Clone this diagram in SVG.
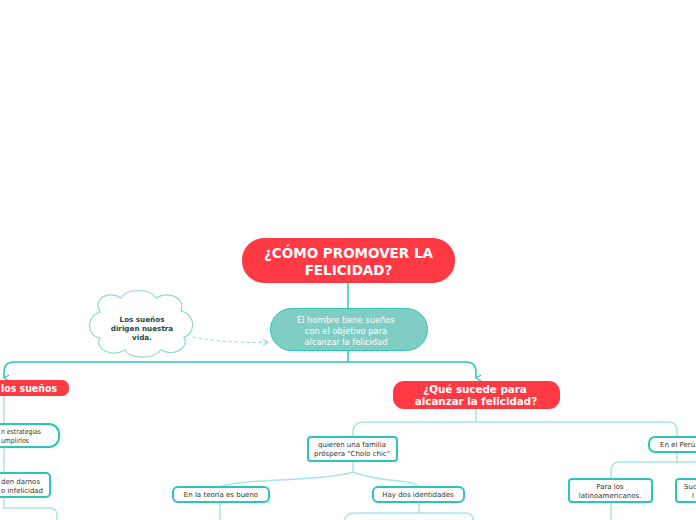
<svg xmlns="http://www.w3.org/2000/svg" width="696" height="520" viewBox="0 0 696 520">
<style>
text{font-family:"DejaVu Sans","Verdana",sans-serif}
.red{fill:#ff3a44}
.rt{fill:#fff;font-weight:bold;text-anchor:middle}
.wn{fill:#fff;stroke:#2ec4b9;stroke-width:2}
.wt{fill:#333;font-size:7px;text-anchor:middle}
.c1{fill:none;stroke:#2ec4b9;stroke-width:1.5}
.c2{fill:none;stroke:#a9e6e1;stroke-width:1.5}
</style>
<defs>
<marker id="ah" markerWidth="8" markerHeight="8" refX="4" refY="6" orient="auto" markerUnits="userSpaceOnUse" viewBox="0 0 8 8">
<path d="M1,1 L4,6 L7,1" fill="none" stroke="#2ec4b9" stroke-width="1.2"/>
</marker>
<marker id="ah2" markerWidth="8" markerHeight="8" refX="6" refY="4" orient="auto" markerUnits="userSpaceOnUse" viewBox="0 0 8 8">
<path d="M1,1 L6,4 L1,7" fill="none" stroke="#8fd9d2" stroke-width="1"/>
</marker>
</defs>
<rect width="696" height="520" fill="#fff"/>
<g id="connectors">
<path class="c1" d="M348,283 V308"/>
<path class="c1" d="M348,351 V362"/>
<path class="c1" d="M348,362 H14 Q4,362 4,372 V378" marker-end="url(#ah)"/>
<path class="c1" d="M348,362 H466 Q476,362 476,372 V378" marker-end="url(#ah)"/>
<path d="M193,337 Q230,344 268,342" fill="none" stroke="#8fd9d2" stroke-width="1" stroke-dasharray="3,3" marker-end="url(#ah2)"/>
<path class="c2" d="M4,396 V424 M4,447 V473 M4,497 V508 H49 Q57,508 57,516 V520"/>
<path class="c2" d="M476,409 V422 M365,422 H668 Q677,422 677,431 V437 M365,422 Q353,422 353,432 V436"/>
<path class="c2" d="M353,461 V472 M353,472 Q340,477 280,480 Q230,482 220,487 M353,472 Q366,477 389,480 Q415,482 419,487"/>
<path class="c2" d="M220,502 V520"/>
<path class="c2" d="M419,502 V513 M419,513 H355 Q345,513 345,520 M419,513 H465 Q473,513 473,520"/>
<path class="c2" d="M677,452 V462 H620 Q611,462 611,471 V478 M677,462 H696"/>
<path class="c2" d="M611,502 V520"/>
</g>
<g id="root">
<rect class="red" x="242" y="238" width="213" height="45" rx="22"/>
<text class="rt" x="348.5" y="258" font-size="13.5">¿CÓMO PROMOVER LA</text>
<text class="rt" x="348.5" y="275" font-size="13.5">FELICIDAD?</text>
</g>
<g id="hombre">
<rect x="270.5" y="308.5" width="157" height="42" rx="21" fill="#7fcdc3" stroke="#2ec4b9" stroke-width="1"/>
<text x="346" y="323" font-size="8.3" fill="#fff" text-anchor="middle">El hombre tiene sueños</text>
<text x="346" y="334" font-size="8.3" fill="#fff" text-anchor="middle">con el objetivo para</text>
<text x="346" y="345" font-size="8.3" fill="#fff" text-anchor="middle">alcanzar la felicidad</text>
</g>
<g id="nube">
<path d="M100,312 C92,298 110,290 121,298 C127,288 150,288 156,298 C168,290 186,298 181,311 C196,314 196,334 184,337 C190,349 172,357 161,350 C153,360 130,359 125,350 C110,358 94,348 100,338 C86,336 86,316 100,312 Z" fill="#fff" stroke="#8fd9d2" stroke-width="1.2"/>
<text x="142" y="322" font-size="7.2" font-weight="bold" fill="#1e4d3c" text-anchor="middle">Los sueños</text>
<text x="142" y="331" font-size="7.2" font-weight="bold" fill="#1e4d3c" text-anchor="middle">dirigen nuestra</text>
<text x="142" y="340" font-size="7.2" font-weight="bold" fill="#1e4d3c" text-anchor="middle">vida.</text>
</g>
<g id="suenos">
<rect class="red" x="-40" y="380" width="109" height="16" rx="7"/>
<text x="1" y="392" font-size="10" font-weight="bold" fill="#fff" textLength="56" lengthAdjust="spacingAndGlyphs">los sueños</text>
</g>
<g id="estrategias">
<rect class="wn" x="-40" y="424" width="99" height="23" rx="10"/>
<text x="1" y="434" font-size="7" fill="#333" textLength="40" lengthAdjust="spacingAndGlyphs">n estrategias</text>
<text x="1" y="443" font-size="7" fill="#333" textLength="28" lengthAdjust="spacingAndGlyphs">umplirlos</text>
</g>
<g id="darnos">
<rect class="wn" x="-40" y="473" width="90" height="24" rx="4"/>
<text x="1" y="484" font-size="7" fill="#333" textLength="39" lengthAdjust="spacingAndGlyphs">den darnos</text>
<text x="1" y="493" font-size="7" fill="#333" textLength="42" lengthAdjust="spacingAndGlyphs">o infelicidad</text>
</g>
<g id="sucede">
<rect class="red" x="393" y="381" width="167" height="28" rx="11"/>
<text class="rt" x="475" y="393" font-size="10.3">¿Qué sucede para</text>
<text class="rt" x="476" y="405" font-size="10.3">alcanzar la felicidad?</text>
</g>
<g id="familia">
<rect class="wn" x="308" y="437" width="89" height="24" rx="3"/>
<text class="wt" x="352" y="447">quieren una familia</text>
<text class="wt" x="352" y="456">próspera "Cholo chic"</text>
</g>
<g id="teoria">
<rect class="wn" x="173" y="487" width="96" height="15" rx="5"/>
<text class="wt" x="221" y="497">En la teoría es bueno</text>
</g>
<g id="identidades">
<rect class="wn" x="373" y="487" width="91" height="15" rx="5"/>
<text class="wt" x="418" y="497">Hay dos identidades</text>
</g>
<g id="peru">
<rect class="wn" x="649" y="437" width="80" height="15" rx="6"/>
<text x="660" y="447" font-size="7" fill="#333">En el Perú</text>
</g>
<g id="latino">
<rect class="wn" x="569" y="479" width="83" height="23" rx="3"/>
<text class="wt" x="610" y="489">Para los</text>
<text class="wt" x="610" y="498">latinoamericanos.</text>
</g>
<g id="suc">
<rect class="wn" x="676" y="479" width="60" height="23" rx="3"/>
<text x="684" y="489" font-size="7" fill="#333">Suc</text>
<text x="692" y="498" font-size="7" fill="#333">l</text>
</g>
</svg>
